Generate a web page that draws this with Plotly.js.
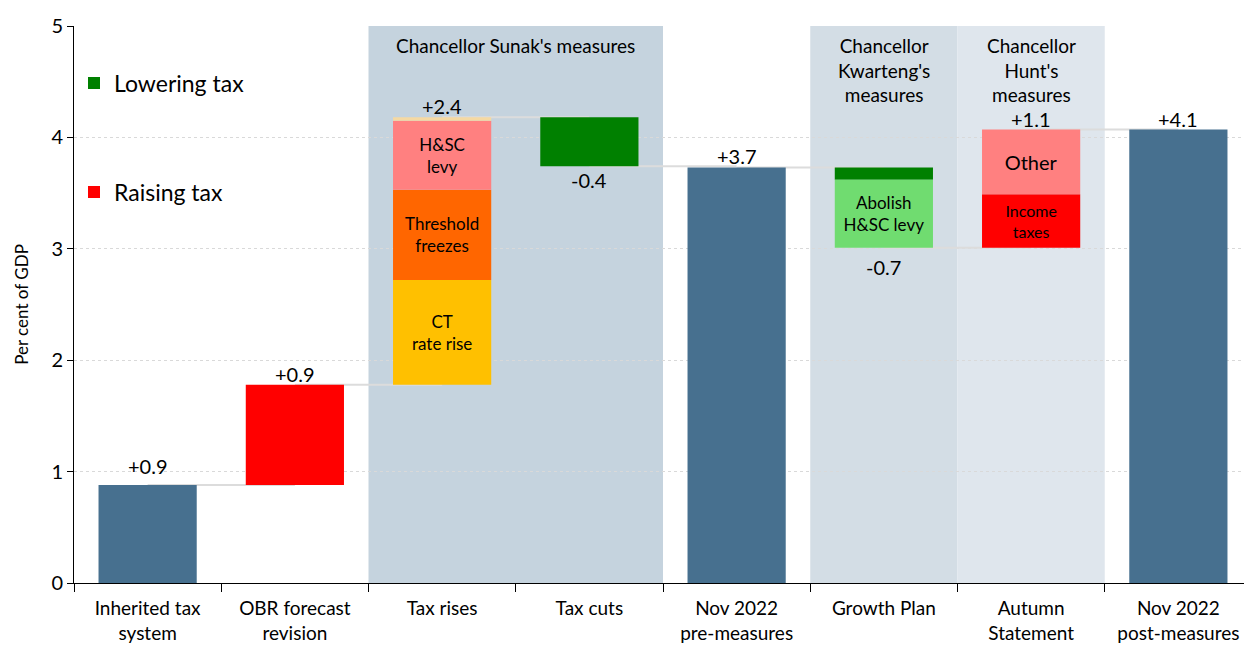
<!DOCTYPE html>
<html>
<head>
<meta charset="utf-8">
<script src="https://cdn.plot.ly/plotly-3.0.1.min.js"></script>
<style>
  html, body { margin: 0; padding: 0; overflow: hidden; background: #fff; }
  #chart { width: 1252px; height: 648px; }
</style>
</head>
<body>
<div id="chart"></div>
<script>
// ---------- data ----------
const categories = [
  "Inherited tax<br>system", "OBR forecast<br>revision", "Tax rises", "Tax cuts",
  "Nov 2022<br>pre-measures", "Growth Plan", "Autumn<br>Statement", "Nov 2022<br>post-measures"
];
// totals (full bars from zero)
const inheritedTotal = 0.88;
const preMeasuresTotal = 3.73;
const postMeasuresTotal = 4.07;
// changes
const obrRevision = [0.90];
const taxRiseNames = ["CT<br>rate rise", "Threshold<br>freezes", "H&SC<br>levy", ""];
const taxRiseValues = [0.94, 0.81, 0.62, 0.03];
const taxCutValues = [-0.44];
const growthPlanNames = ["", "Abolish<br>H&SC levy"];
const growthPlanValues = [-0.11, -0.61];
const autumnNames = ["Income<br>taxes", "Other"];
const autumnValues = [0.48, 0.58];
const legendNames = ["Lowering tax", "Raising tax"];
const regionTitles = ["Chancellor Sunak's measures", "Chancellor<br>Kwarteng's<br>measures", "Chancellor<br>Hunt's<br>measures"];

// ---------- styles ----------
const FONT = "Lato, 'Open Sans', sans-serif";
const C_TOTAL = "#47708f";
const C_RED = "#ff0000";
const C_GREEN = "#008000";
const taxRiseColors = ["#ffc000", "#ff6600", "#ff8080", "#f5d9a3"];
const growthColors = ["#008000", "#70dc70"];
const autumnColors = ["#ff0000", "#ff8080"];
const regionSpans = [[1.5, 3.5], [4.5, 5.5], [5.5, 6.5]];
const regionColors = ["#c5d3de", "#d3dde5", "#dfe6ed"];
const labelShifts = [8, 0, 0, 0, 0, -5, 0, 0];
const BW = 0.667;

const traces = [];
const sum = a => a.reduce((s, v) => s + v, 0);
const annotations = [];
const shapes = [];

function seg(cat, base, val, color, text, opts) {
  const t = Object.assign({
    type: "bar", x: [cat], y: [val], base: [base], width: BW,
    marker: { color: color, line: { width: 0 } },
    text: [text], textposition: "inside", insidetextanchor: "middle",
    constraintext: "none", cliponaxis: false,
    textfont: { family: FONT, size: 17, color: "#000" },
    hoverinfo: "skip", showlegend: false
  }, opts || {});
  traces.push(t);
}

// running level
let level = 0;
const levelsAfter = [];
// 0 inherited
seg(categories[0], 0, inheritedTotal, C_TOTAL, "");
level = inheritedTotal; levelsAfter.push(level);
const labels = [{ i: 0, v: inheritedTotal, top: inheritedTotal, bot: 0 }];
// 1 OBR
seg(categories[1], level, obrRevision[0], C_RED, "", { name: legendNames[1], showlegend: true, legendgroup: "r", legendrank: 2 });
labels.push({ i: 1, v: obrRevision[0], top: level + obrRevision[0], bot: level });
level += obrRevision[0]; levelsAfter.push(level);
// 2 tax rises
let start = level;
taxRiseValues.forEach((v, k) => { seg(categories[2], level, v, taxRiseColors[k], taxRiseNames[k]); level += v; });
labels.push({ i: 2, v: sum(taxRiseValues), top: level, bot: start });
levelsAfter.push(level);
// 3 tax cuts
start = level;
seg(categories[3], level + taxCutValues[0], -taxCutValues[0], C_GREEN, "", { name: legendNames[0], showlegend: true, legendgroup: "l", legendrank: 1 });
level += taxCutValues[0];
labels.push({ i: 3, v: taxCutValues[0], top: start, bot: level });
levelsAfter.push(level);
// 4 pre-measures
seg(categories[4], 0, preMeasuresTotal, C_TOTAL, "");
level = preMeasuresTotal;
labels.push({ i: 4, v: preMeasuresTotal, top: preMeasuresTotal, bot: 0 });
levelsAfter.push(level);
// 5 growth plan
start = level;
growthPlanValues.forEach((v, k) => { seg(categories[5], level + v, -v, growthColors[k], growthPlanNames[k]); level += v; });
labels.push({ i: 5, v: sum(growthPlanValues), top: start, bot: level });
levelsAfter.push(level);
// 6 autumn statement
start = level;
autumnValues.forEach((v, k) => {
  seg(categories[6], level, v, autumnColors[k], autumnNames[k],
      k === 1 ? { textfont: { family: FONT, size: 20, color: "#000" } } : { textfont: { family: FONT, size: 16, color: "#000" } });
  level += v;
});
labels.push({ i: 6, v: sum(autumnValues), top: level, bot: start });
levelsAfter.push(level);
// 7 post-measures
seg(categories[7], 0, postMeasuresTotal, C_TOTAL, "");
labels.push({ i: 7, v: postMeasuresTotal, top: postMeasuresTotal, bot: 0 });

// value labels
labels.forEach(l => {
  const pos = l.v >= 0;
  annotations.push({
    x: categories[l.i], y: pos ? l.top : l.bot, xref: "x", yref: "y",
    text: (pos ? "+" : "") + l.v.toFixed(1), showarrow: false,
    yanchor: pos ? "bottom" : "top", yshift: (pos ? -3 : 0) + labelShifts[l.i],
    font: { family: FONT, size: 20, color: "#000" }
  });
});

// background regions
regionSpans.forEach((s, k) => {
  shapes.push({ type: "rect", layer: "below", xref: "x", yref: "paper",
    x0: s[0], x1: s[1], y0: 0, y1: 1, fillcolor: regionColors[k], line: { width: 0 } });
  annotations.push({ x: (s[0] + s[1]) / 2, y: 1, xref: "x", yref: "paper",
    yanchor: "top", yshift: -6, text: regionTitles[k], showarrow: false,
    font: { family: FONT, size: 19, color: "#000" } });
});
// connectors
levelsAfter.forEach((lv, i) => {
  shapes.push({ type: "line", layer: "between", xref: "x", yref: "y",
    x0: i, x1: i + 1, y0: lv, y1: lv, line: { color: "#dcdcdc", width: 2 } });
});

const layout = {
  width: 1252, height: 648,
  margin: { l: 74, r: 0, t: 26, b: 65 },
  paper_bgcolor: "#fff", plot_bgcolor: "rgba(0,0,0,0)",
  barmode: "overlay", bargap: 0.333,
  font: { family: FONT, color: "#000" },
  showlegend: true,
  legend: { x: 0.0, xanchor: "left", y: 0.936, yanchor: "top",
    bgcolor: "rgba(0,0,0,0)", font: { family: FONT, size: 23, color: "#000" },
    tracegroupgap: 76, traceorder: "grouped" },
  xaxis: { type: "category", categoryorder: "array", categoryarray: categories,
    range: [-0.5, 7.5], tickson: "boundaries", ticks: "outside", ticklen: 8,
    tickcolor: "#000", showline: true, linecolor: "#000", linewidth: 1,
    ticklabelstandoff: 8,
    showgrid: false, tickfont: { family: FONT, size: 19, color: "#000" }, fixedrange: true },
  yaxis: { range: [0, 5], dtick: 1, ticks: "outside", ticklen: 6, tickcolor: "#000",
    showline: true, linecolor: "#000", linewidth: 1,
    showgrid: true, gridcolor: "#d9d9d9", griddash: "dot", gridwidth: 1, zeroline: false,
    tickfont: { family: FONT, size: 20, color: "#000" },
    title: { text: "Per cent of GDP", font: { family: FONT, size: 17, color: "#000" }, standoff: 18 },
    fixedrange: true },
  shapes: shapes, annotations: annotations,
  hovermode: false
};

Plotly.newPlot("chart", traces, layout, { displayModeBar: false, staticPlot: true });
</script>
</body>
</html>
